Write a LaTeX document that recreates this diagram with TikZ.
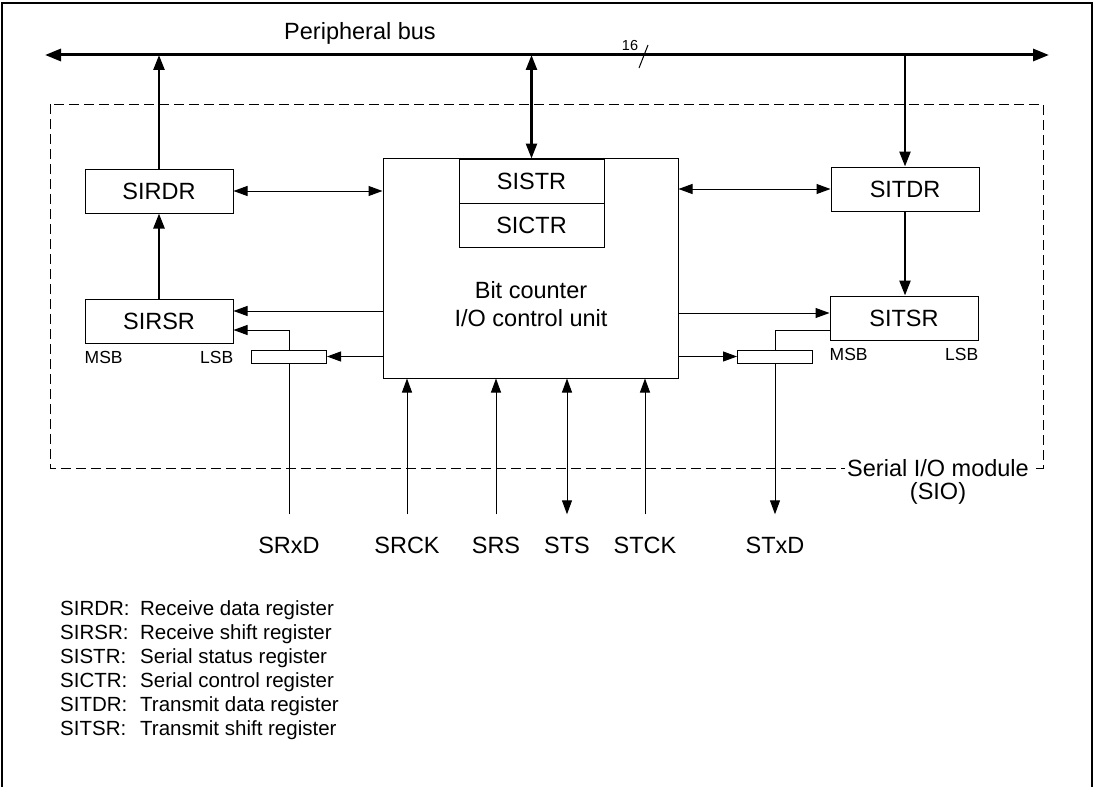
\documentclass[tikz,border=0pt]{standalone}
\usepackage{fontspec}
\setmainfont{Liberation Sans}
\usepackage{tikz}
\usetikzlibrary{arrows.meta,positioning,calc}
\newcommand{\labfont}{\fontsize{23.5bp}{28bp}\selectfont}
\newcommand{\bitfont}{\fontsize{17.5bp}{20bp}\selectfont}
\newcommand{\keyfont}{\fontsize{20.5bp}{24bp}\selectfont}
\tikzstyle{reg} = [rectangle, draw, line width=1bp, minimum width=148bp,
    minimum height=44bp, inner sep=0pt, font=\labfont]
\tikzstyle{shbar} = [rectangle, draw, line width=1bp, minimum width=75bp,
    minimum height=13bp, inner sep=0pt]
\tikzstyle{pinlbl} = [font=\labfont, inner xsep=0pt, inner ysep=22bp, text height=17bp, text depth=0pt]
\tikzstyle{bitlbl} = [font=\bitfont, inner sep=0pt]
\tikzstyle{arrow} = [-{Triangle[length=14bp,width=10bp]}, line width=1bp]
\tikzstyle{twoway} = [{Triangle[length=14bp,width=10bp]}-{Triangle[length=14bp,width=10bp]}, line width=1bp]
\tikzstyle{fatarrow} = [-{Triangle[length=15bp,width=11bp]}, line width=2.5bp]
\tikzstyle{fattwoway} = [{Triangle[length=15bp,width=11bp]}-{Triangle[length=15bp,width=11bp]}, line width=2.5bp]
\tikzstyle{bus} = [{Triangle[length=16bp,width=12bp]}-{Triangle[length=16bp,width=12bp]}, line width=3bp]
\tikzstyle{sioframe} = [dash pattern=on 10bp off 5bp, line width=1bp]

\begin{document}
\begin{tikzpicture}[x=1bp,y=-1bp]
\useasboundingbox (0,0) rectangle (1094,787);
\draw[line width=1.5bp] (2,787) -- (2,3) -- (1092,3) -- (1092,787);

% peripheral bus
\coordinate (busL) at (45,55);
\coordinate (busR) at (1049,55);
\draw[bus] (busL) -- (busR);
\node[font=\labfont] (busname) at (360,33) {Peripheral bus};
\node[font=\fontsize{14.5bp}{17bp}\selectfont, inner sep=0pt] (buswidth) at (630,46) {16};
\draw[line width=1bp] (639,68) -- (648,45);

% module outline
\draw[sioframe] (50,104) rectangle (1043,468);
\node[font=\labfont, fill=white, inner xsep=2bp, inner ysep=0pt] (sio) at (938,468) {Serial I/O module};
\node[font=\labfont, inner sep=0pt] (siotag) at (938,493) {(SIO)};

% control unit
\node[draw, line width=1bp, minimum width=295bp, minimum height=219bp, inner sep=0pt] (ctrl) at (530.5,268.5) {};
\node[reg, minimum width=145bp] (sistr) at (531.5,181) {SISTR};
\node[reg, minimum width=145bp] (sictr) at (531.5,225) {SICTR};
\node[font=\labfont, align=center] (unit) at (531,304) {Bit counter\\I/O control unit};

% receive side
\node[reg] (sirdr) at (159,191) {SIRDR};
\node[reg] (sirsr) at (159,321) {SIRSR};
\node[bitlbl, anchor=west] (rxmsb) at ([yshift=-14bp]sirsr.south west) {MSB};
\node[bitlbl, anchor=east] (rxlsb) at ([yshift=-14bp]sirsr.south east) {LSB};
\node[shbar] (rxbar) at (289,356.5) {};

% transmit side
\node[reg] (sitdr) at (905,189) {SITDR};
\node[reg] (sitsr) at (904,318) {SITSR};
\node[bitlbl, anchor=west] (txmsb) at ([yshift=-14bp]sitsr.south west) {MSB};
\node[bitlbl, anchor=east] (txlsb) at ([yshift=-14bp]sitsr.south east) {LSB};
\node[shbar] (txbar) at (775,356.5) {};

% pins
\node[pinlbl] (srxd) at (289,545) {SRxD};
\node[pinlbl] (srck) at (407,545) {SRCK};
\node[pinlbl] (srs) at (496,545) {SRS};
\node[pinlbl] (sts) at (567,545) {STS};
\node[pinlbl] (stck) at (645,545) {STCK};
\node[pinlbl] (stxd) at (775,545) {STxD};

\coordinate (rxin) at ([yshift=10bp]sirsr.east);
\coordinate (rxpin) at ([yshift=-9bp]sirsr.east);
\coordinate (txin) at ([yshift=5bp]sitsr.west);
\coordinate (txout) at ([yshift=-12bp]sitsr.west);

% bus connections
\draw[fatarrow] (sirdr.north) -- (sirdr.north |- busL);
\draw[fattwoway] (sistr.north) -- (sistr.north |- busL);
\draw[fatarrow] (sitdr.north |- busL) -- (sitdr.north);
\draw[fatarrow] (sirsr.north) -- (sirdr.south);
\draw[fatarrow] (sitdr.south) -- (sitdr.south |- sitsr.north);

% receive paths
\draw[twoway] (sirdr.east) -- (ctrl.west |- sirdr.east);
\draw[arrow] (ctrl.west |- rxin) -- (rxin);
\draw[arrow] (ctrl.west |- rxbar.east) -- (rxbar.east);
\draw[arrow] (rxbar.north) |- (rxpin);
\draw[line width=1bp] (srxd.north) -- (rxbar.south);

% transmit paths
\draw[twoway] (ctrl.east |- sitdr.west) -- (sitdr.west);
\draw[arrow] (ctrl.east |- txin) -- (txin);
\draw[arrow] (ctrl.east |- txbar.west) -- (txbar.west);
\draw[line width=1bp] (txout) -| (txbar.north);
\draw[arrow] (txbar.south) -- (stxd.north);

% clock and handshake pins
\draw[arrow] (srck.north) -- (srck.north |- ctrl.south);
\draw[arrow] (srs.north) -- (srs.north |- ctrl.south);
\draw[twoway] (sts.north) -- (sts.north |- ctrl.south);
\draw[arrow] (stck.north) -- (stck.north |- ctrl.south);

% legend
\node[font=\keyfont, align=left, anchor=north west, inner sep=0pt] (keys) at (60,600) {%
\makebox[80bp][l]{SIRDR:}Receive data register\\
\makebox[80bp][l]{SIRSR:}Receive shift register\\
\makebox[80bp][l]{SISTR:}Serial status register\\
\makebox[80bp][l]{SICTR:}Serial control register\\
\makebox[80bp][l]{SITDR:}Transmit data register\\
\makebox[80bp][l]{SITSR:}Transmit shift register};
\end{tikzpicture}
\end{document}
